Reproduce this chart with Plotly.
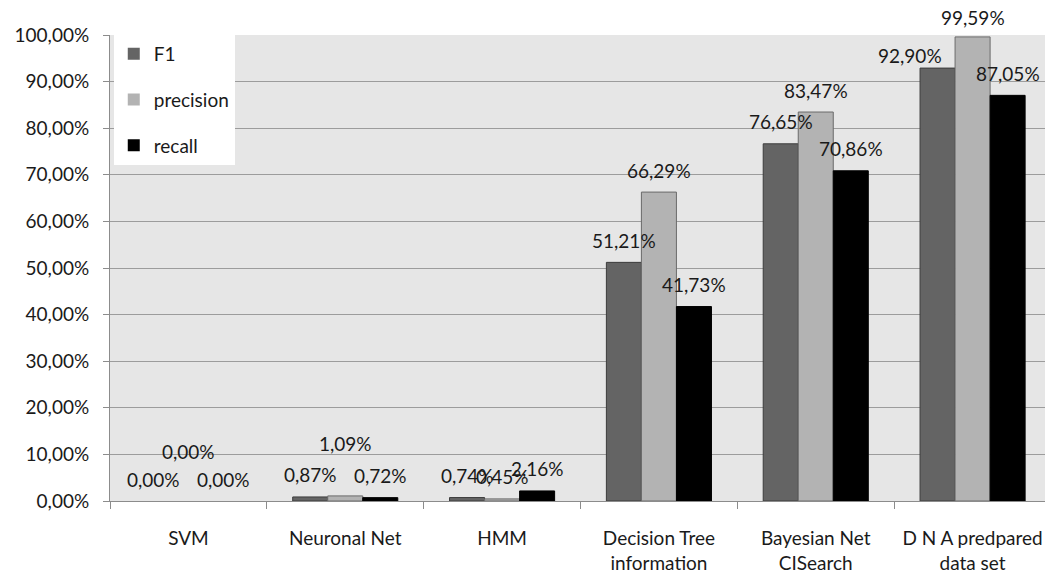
import plotly.graph_objects as go

categories = ["SVM", "Neuronal Net", "HMM", "Decision Tree<br>information",
              "Bayesian Net<br>CISearch", "D N A predpared<br>data set"]
series_names = ["F1", "precision", "recall"]
f1 = [0.00, 0.87, 0.74, 51.21, 76.65, 92.90]
precision = [0.00, 1.09, 0.45, 66.29, 83.47, 99.59]
recall = [0.00, 0.72, 2.16, 41.73, 70.86, 87.05]
y_ticks = [0, 10, 20, 30, 40, 50, 60, 70, 80, 90, 100]

# the page body adds an 8px offset, so the figure is 8px smaller
W, H = 1045, 569
ML, MR, MT, MB = 102, 2, 27, 76
BARGAP = 0.33

fills = ["#646464", "#b3b3b3", "#000000"]
outlines = ["#3c3c3c", "#6a6a6a", "#000000"]
FONT = "Lato"
TXT = "#1a1a1a"

# per-label extra offsets (px) for labels that were moved in the original
label_shift = {(0, 1): (0, 28), (1, 1): (0, 30), (5, 0): (-28, -9), (5, 1): (0, -3)}

def fmt(v):
    return f"{v:.2f}".replace(".", ",") + "%"

fig = go.Figure()
all_series = [f1, precision, recall]
for i, (name, vals) in enumerate(zip(series_names, all_series)):
    fig.add_trace(go.Bar(
        x=categories, y=vals, name=name,
        marker=dict(color=fills[i],
                    line=dict(color=outlines[i],
                              width=[1 if v > 0 else 0 for v in vals])),
        legendgroup=name,
    ))

plot_w = W - ML - MR
slot = plot_w / len(categories) * (1 - BARGAP) / 3
annotations = []
for i, vals in enumerate(all_series):
    for j, v in enumerate(vals):
        dx, dy = label_shift.get((j, i), (0, 0))
        annotations.append(dict(
            x=categories[j], y=v, xref="x", yref="y",
            text=fmt(v), showarrow=False,
            xanchor="center", yanchor="middle",
            xshift=(i - 1) * slot + dx, yshift=22 + dy,
            font=dict(family=FONT, size=19, color=TXT),
        ))

fig.update_layout(
    width=W, height=H,
    margin=dict(l=ML, r=MR, t=MT, b=MB, autoexpand=False),
    paper_bgcolor="white", plot_bgcolor="#e6e6e6",
    barmode="group", bargap=BARGAP, bargroupgap=0,
    font=dict(family=FONT, size=19, color=TXT),
    annotations=annotations,
    showlegend=True,
    legend=dict(
        x=0.004, y=1, xanchor="left", yanchor="top",
        bgcolor="white", borderwidth=0,
        traceorder="grouped", tracegroupgap=18,
        font=dict(family=FONT, size=19, color=TXT),
        entrywidth=100,
    ),
    xaxis=dict(
        automargin=False,
        showgrid=False, showline=True, linecolor="#8c8c8c", linewidth=1,
        ticks="outside", tickson="boundaries", ticklen=7, tickcolor="#8c8c8c",
        tickfont=dict(family=FONT, size=19, color=TXT),
        ticklabelstandoff=20,
    ),
    yaxis=dict(
        automargin=False,
        range=[0, 100], tickvals=y_ticks,
        ticktext=[fmt(t) for t in y_ticks],
        showgrid=True, gridcolor="#9c9c9c", gridwidth=1,
        showline=True, linecolor="#8c8c8c", linewidth=1,
        ticks="outside", ticklen=6, tickcolor="#8c8c8c",
        tickfont=dict(family=FONT, size=19, color=TXT),
        zeroline=False,
        ticklabelstandoff=10,
    ),
)

fig.write_html("out.html")
